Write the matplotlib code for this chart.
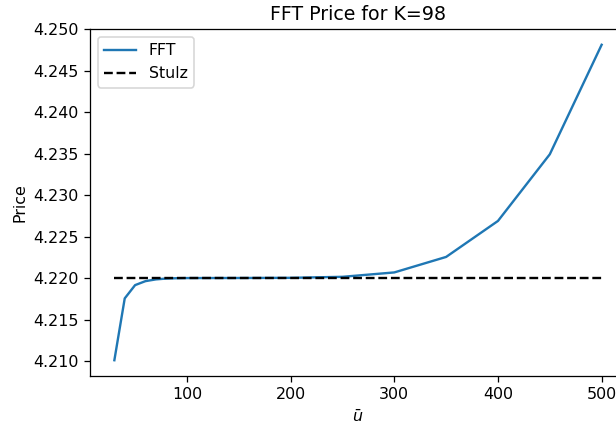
import matplotlib
matplotlib.use("Agg")
import matplotlib.pyplot as plt

# grid sizes and FFT prices
u_bar = [30, 40, 50, 60, 70, 80, 90, 100, 150, 200, 250, 300, 350, 400, 450, 500]
fft_price = [4.2101, 4.21756, 4.21916, 4.21964, 4.21985, 4.21995, 4.21999, 4.22001,
             4.22002, 4.22004, 4.22016, 4.22069, 4.22256, 4.22690, 4.23494, 4.24815]
stulz_price = 4.22004

dpi = 114
fig = plt.figure(figsize=(616 / dpi, 424 / dpi), dpi=dpi)
ax = fig.add_axes([90 / 616, 48 / 424, 536 / 616, 347 / 424])

ax.plot(u_bar, fft_price, label="FFT")
ax.hlines(stulz_price, u_bar[0], u_bar[-1], colors="black", linestyles="--", label="Stulz")

ax.set_title("FFT Price for K=98")
ax.set_xlabel(r"$\bar{u}$")
ax.set_ylabel("Price")
ax.legend(loc="upper left")

fig.savefig("out.png", dpi=dpi)
